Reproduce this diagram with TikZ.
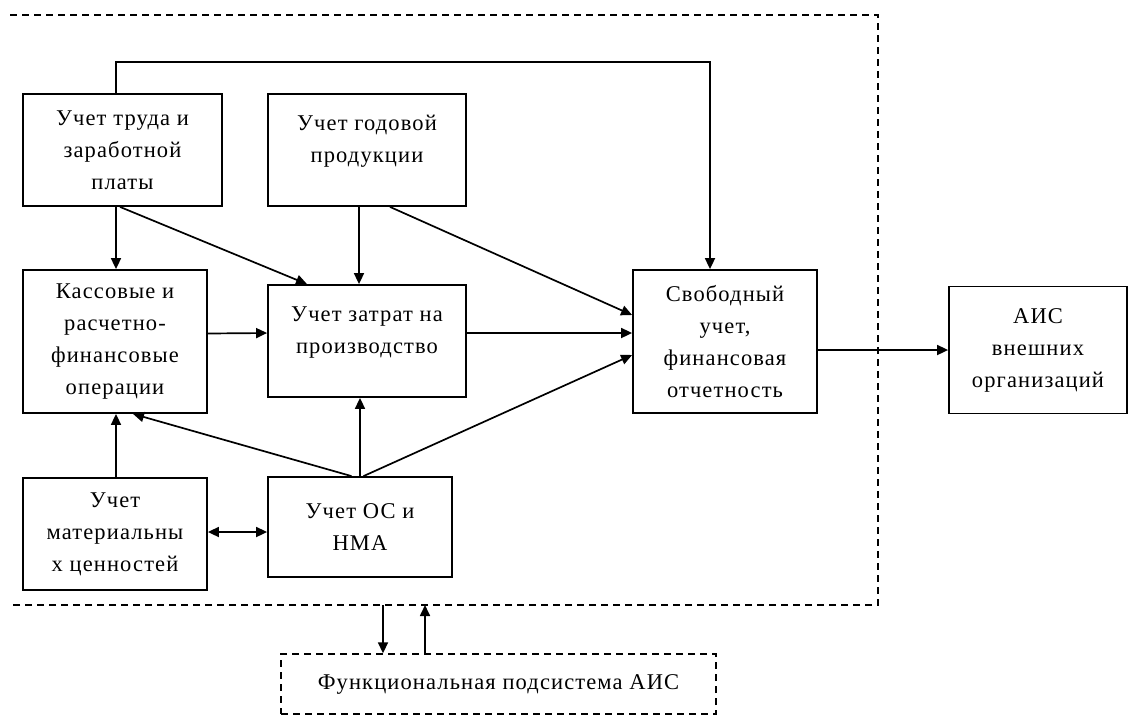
\documentclass[tikz,border=0pt]{standalone}
\usepackage{fontspec}
\setmainfont{Liberation Serif}[LetterSpace=5]
\usetikzlibrary{arrows.meta}
\begin{document}
\begin{tikzpicture}[x=1pt,y=-1pt,
  box/.style={draw,line width=1.8pt,align=center,inner sep=2pt,
    font=\fontsize{22.5}{32}\selectfont},
  arr/.style={line width=1.7pt,-{Triangle[length=11pt,width=10pt]}},
  darr/.style={line width=1.7pt,{Triangle[length=11pt,width=10pt]}-{Triangle[length=11pt,width=10pt]}},
  frame/.style={line width=1.4pt,dash pattern=on 7pt off 5pt}]
\useasboundingbox (0,0) rectangle (1129,716);
\node[box,minimum width=199pt,minimum height=112pt] (A) at (122.5,150) {Учет труда и\\заработной\\платы};
\node[box,minimum width=198pt,minimum height=112pt] (B) at (367,150) {Учет годовой\\продукции\\[-10pt]\mbox{}};
\node[box,minimum width=184pt,minimum height=143pt] (C) at (115,341.5) {Кассовые и\\расчетно-\\финансовые\\операции};
\node[box,minimum width=198pt,minimum height=112pt] (D) at (367,341) {Учет затрат на\\производство\\[-10pt]\mbox{}};
\node[box,minimum width=184pt,minimum height=112pt] (E) at (115,534) {Учет\\материальны\\х ценностей};
\node[box,minimum width=184pt,minimum height=100pt] (F) at (360,527) {Учет ОС и\\НМА};
\node[box,minimum width=184pt,minimum height=143pt] (G) at (725,341.5) {Свободный\\учет,\\финансовая\\отчетность};
\node[box,minimum width=178pt,minimum height=127pt] (H) at (1038,350) {АИС\\внешних\\организаций};
\node[box,frame,minimum width=435pt,minimum height=60pt] (I) at (498.5,684) {Функциональная подсистема АИС};
% outer dashed frame
\coordinate (f1) at (10,15);
\coordinate (f2) at (878,15);
\coordinate (f3) at (878,605);
\coordinate (f4) at (10,605);
\draw[frame] (f1) -- (f2) -- (f3) -- (f4);
\coordinate (top) at (0,62);
% connectors
\draw[arr] ([xshift=-6.5pt]A.north) -- ([xshift=-6.5pt]A.north |- top) -| ([xshift=-15pt]G.north);
\draw[arr] ([xshift=1pt]C.north |- A.south) -- ([xshift=1pt]C.north);
\draw[arr] ([xshift=-2.5pt]A.south) -- ([xshift=-60pt]D.north);
\draw[arr] ([xshift=-8pt]B.south) -- ([xshift=-8pt]D.north);
\draw[arr] ([xshift=23pt]B.south) -- ([yshift=26.5pt]G.west);
\draw[arr] ([yshift=8pt]C.east) -- ([yshift=8pt]D.west);
\draw[arr] ([yshift=8pt]D.east) -- ([yshift=8.5pt]G.west);
\draw[arr] ([xshift=3.5pt]F.north) -- ([yshift=-13.5pt]G.west);
\draw[arr] (F.north) -- (F.north |- D.south);
\draw[arr] ([xshift=-8.5pt]F.north) -- ([xshift=18pt]C.south);
\draw[arr] ([xshift=1pt]E.north) -- ([xshift=1pt]C.south);
\draw[darr] ([yshift=2pt]E.east) -- ([yshift=-5pt]F.west);
\draw[arr] (H.west -| G.east) -- (H.west);
\draw[arr] ([xshift=-115.5pt]I.north |- f4) -- ([xshift=-115.5pt]I.north);
\draw[arr] ([xshift=-73.5pt]I.north) -- ([xshift=-73.5pt]I.north |- f4);
\end{tikzpicture}
\end{document}
